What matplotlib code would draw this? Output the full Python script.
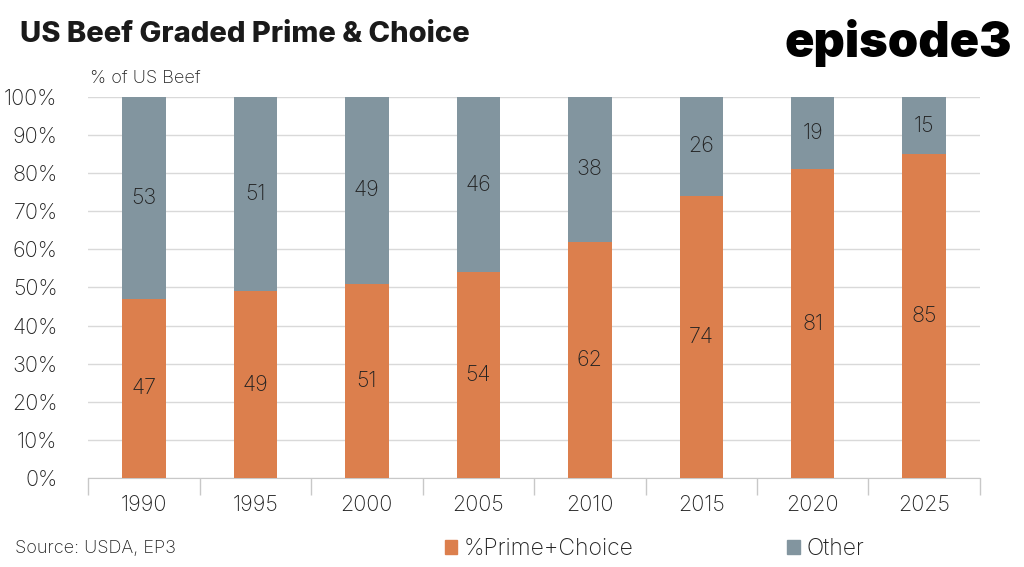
import matplotlib.pyplot as plt
from matplotlib.patches import Patch

plt.rcParams['font.family'] = ['Inter', 'DejaVu Sans']

years = ['1990', '1995', '2000', '2005', '2010', '2015', '2020', '2025']
prime_choice = [47, 49, 51, 54, 62, 74, 81, 85]
other = [53, 51, 49, 46, 38, 26, 19, 15]

ORANGE = '#DC7F4D'
GRAY = '#82959F'
TEXT = '#222222'

fig = plt.figure(figsize=(10.24, 5.67), dpi=100)
ax = fig.add_axes([0.086, 0.157, 0.871, 0.672])

x = range(len(years))
ax.bar(x, prime_choice, width=0.39, color=ORANGE, zorder=3)
ax.bar(x, other, width=0.39, bottom=prime_choice, color=GRAY, zorder=3)

for i in x:
    ax.text(i, prime_choice[i] / 2, str(prime_choice[i]), ha='center', va='center',
            fontsize=15.5, color=TEXT, fontweight='light', zorder=4)
    ax.text(i, prime_choice[i] + other[i] / 2, str(other[i]), ha='center', va='center',
            fontsize=15.5, color=TEXT, fontweight='light', zorder=4)

ax.set_xlim(-0.5, len(years) - 0.5)
ax.set_ylim(0, 100)
ax.set_yticks(range(0, 101, 10))
ax.set_yticklabels([f'{v}%' for v in range(0, 101, 10)], fontsize=15.5, color=TEXT,
                   fontweight='light')
ax.set_xticks(list(x))
ax.set_xticklabels(years, fontsize=15.5, color=TEXT, fontweight='light')
ax.tick_params(axis='x', length=0, pad=12)
ax.tick_params(axis='y', length=0, pad=22)
ax.set_xticks([i - 0.5 for i in range(len(years) + 1)], minor=True)
ax.tick_params(axis='x', which='minor', length=12, color='#C8C8C8', width=1)

ax.grid(axis='y', color='#D9D9D9', linewidth=1, zorder=0)
for s in ['top', 'right', 'left']:
    ax.spines[s].set_visible(False)
ax.spines['bottom'].set_color('#C8C8C8')

fig.text(0.02, 0.94, 'US Beef Graded Prime & Choice', fontsize=21, fontweight='heavy',
         color='#1a1a1a', va='center')
fig.text(0.988, 0.925, 'episode3', fontsize=35, fontweight='black', color='black',
         ha='right', va='center')
fig.text(0.088, 0.862, '% of US Beef', fontsize=13, color=TEXT, va='center',
         fontweight='light')
fig.text(0.015, 0.032, 'Source: USDA, EP3', fontsize=13, color=TEXT, va='center',
         fontweight='light')

handles = [Patch(color=ORANGE), Patch(color=GRAY)]
leg = fig.legend(handles, ['%Prime+Choice', 'Other'], loc='center left',
                 bbox_to_anchor=(0.414, 0.032), ncol=2, frameon=False, fontsize=16.5,
                 handlelength=0.55, handleheight=0.55, handletextpad=0.3,
                 columnspacing=6.7, labelcolor=TEXT)
for t in leg.get_texts():
    t.set_fontweight('light')

fig.savefig('out.png', dpi=100)
